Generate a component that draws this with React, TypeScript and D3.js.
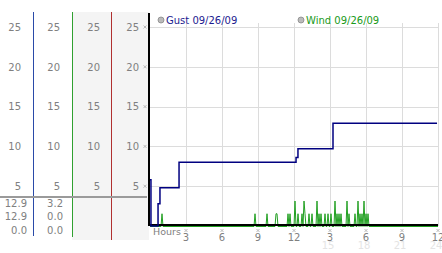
import React from "react";
import * as d3 from "d3";

// ---- data ----
const yTicks = [5, 10, 15, 20, 25];
const hourTicks = [3, 6, 9, 12, 15, 18, 21, 24];
const hourLabels = ["3", "6", "9", "12", "3", "6", "9", "12"];
const fadedHours = [15, 18, 21, 24];
const fadedLabels = ["15", "18", "21", "24"];

const gustSeriesName = "Gust 09/26/09";
const windSeriesName = "Wind 09/26/09";

// gust readings: hour, mph (step line)
const gustHours = [0, 0.08, 0.67, 0.83, 2.42, 12.17, 12.33, 15.25, 23.92];
const gustValues = [5.8, 0, 2.8, 4.8, 8.0, 8.6, 9.7, 12.9, 12.9];

// wind readings (minutes after midnight, mph), 5-minute samples; others are 0
const windMinutes = [60, 525, 585, 630, 635, 690, 700, 725, 740, 760, 770, 775, 795, 810, 835, 845, 855, 875, 890, 905, 925, 935, 945, 955, 985, 995, 1025, 1040, 1050, 1060, 1070, 1080, 1090];
const windValues = [1.6, 1.6, 1.6, 1.6, 1.6, 1.6, 1.6, 3.2, 1.6, 1.6, 3.2, 1.6, 1.6, 1.6, 3.2, 1.6, 1.6, 1.6, 1.6, 1.6, 3.2, 1.6, 1.6, 1.6, 3.2, 1.6, 1.6, 3.2, 1.6, 1.6, 3.2, 1.6, 1.6];

const gustSummary = ["12.9", "12.9", "0.0"];
const windSummary = ["3.2", "0.0", "0.0"];

const FONT = "DejaVu Sans, Verdana, sans-serif";

function Marker({ x, y }: { x: number; y: number }) {
  return (
    <path
      d={`M${x - 1.5},${y - 1.5}L${x + 1.5},${y + 1.5}M${x + 1.5},${y - 1.5}L${x - 1.5},${y + 1.5}`}
      stroke="#aaa"
      strokeWidth={0.8}
      fill="none"
    />
  );
}

export default function App() {
  const W = 442, H = 253;
  const x = d3.scaleLinear().domain([0, 24]).range([150, 438]);
  const y = d3.scaleLinear().domain([0, 25]).range([226, 27]);

  const gustPts: [number, number][] = gustHours.map((h, i) => [h, gustValues[i]]);
  const gustLine = d3
    .line<[number, number]>()
    .x((d) => x(d[0]))
    .y((d) => y(d[1]))
    .curve(d3.curveStepAfter)(gustPts);

  // wind polyline, with zero readings between the non-zero ones
  const windPts: [number, number][] = [[0, 0]];
  windMinutes.forEach((m, i) => {
    const prev = windPts[windPts.length - 1];
    if (prev[0] < m - 5) windPts.push([m - 5, 0]);
    windPts.push([m, windValues[i]]);
    const next = windMinutes[i + 1];
    if (next === undefined || next > m + 5) windPts.push([m + 5, 0]);
  });
  windPts.push([1440, 0]);
  const windLine = d3
    .line<[number, number]>()
    .x((d) => x(d[0] / 60))
    .y((d) => y(d[1]) + 0.5)(windPts);

  const labelRights = [21, 60, 100, 139];
  const colLines = [
    { x: 33, color: "#2a4aa8", y2: 236 },
    { x: 72, color: "#30a030", y2: 237 },
    { x: 111, color: "#b03030", y2: 240 },
  ];

  return (
    <svg width={W} height={H} style={{ position: "absolute", left: 0, top: 0, background: "#fff" }} fontFamily={FONT}>
      {/* left panel shading */}
      <rect x={72} y={12} width={77} height={228} fill="#f4f4f4" />
      {/* column lines */}
      {colLines.map((c) => (
        <line key={c.x} x1={c.x + 0.5} x2={c.x + 0.5} y1={12} y2={c.y2} stroke={c.color} strokeWidth={1} />
      ))}
      {/* left-panel y labels */}
      {labelRights.map((rx, ci) =>
        yTicks.map((t) => (
          <text key={`${ci}-${t}`} x={rx} y={y(t) + 3.7} textAnchor="end" fontSize={10} fill="#808080">
            {t}
          </text>
        ))
      )}
      {/* separator line */}
      <line x1={0} x2={147} y1={197} y2={197} stroke="#9a9a9a" strokeWidth={2} />
      {/* summaries */}
      {gustSummary.map((s, i) => (
        <text key={`g${i}`} x={27} y={206.5 + i * 13.7} textAnchor="end" fontSize={10} fill="#808080">
          {s}
        </text>
      ))}
      {windSummary.map((s, i) => (
        <text key={`w${i}`} x={63} y={206.5 + i * 13.7} textAnchor="end" fontSize={10} fill="#808080">
          {s}
        </text>
      ))}

      {/* grid */}
      {yTicks.map((t) => (
        <line key={`hy${t}`} x1={150} x2={438} y1={Math.round(y(t)) + 0.5} y2={Math.round(y(t)) + 0.5} stroke="#dcdcdc" />
      ))}
      {hourTicks.map((h) => (
        <line key={`vx${h}`} x1={Math.round(x(h)) + 0.5} x2={Math.round(x(h)) + 0.5} y1={23} y2={226} stroke="#dcdcdc" />
      ))}
      {/* y tick markers */}
      {yTicks.map((t) => (
        <Marker key={`my${t}`} x={145} y={y(t)} />
      ))}

      {/* series */}
      <path d={windLine || ""} fill="none" stroke="#22a022" strokeWidth={1} />
      <line x1={149} x2={438} y1={225} y2={225} stroke="#000" strokeWidth={2} />
      <path d={gustLine || ""} fill="none" stroke="#000080" strokeWidth={1.5} />
      {/* y axis */}
      <line x1={149} x2={149} y1={13} y2={226} stroke="#000" strokeWidth={2} />

      {/* x axis labels */}
      <text x={153} y={235} fontSize={9.5} fill="#808080">Hours</text>
      {fadedHours.map((h, i) => (
        <text key={`fl${h}`} x={x(h) - 2} y={248.5} textAnchor="middle" fontSize={10} fill="#e4e4e4">
          {fadedLabels[i]}
        </text>
      ))}
      {hourTicks.map((h, i) => (
        <g key={`xl${h}`}>
          <Marker x={x(h)} y={230.5} />
          <text x={x(h)} y={241} textAnchor="middle" fontSize={10} fill="#808080">
            {hourLabels[i]}
          </text>
        </g>
      ))}

      {/* legend */}
      <circle cx={161} cy={20} r={3} fill="#bbb" stroke="#888" strokeWidth={0.8} />
      <text x={166} y={23.5} fontSize={10} fill="#1c1c90">{gustSeriesName}</text>
      <circle cx={301} cy={20} r={3} fill="#bbb" stroke="#888" strokeWidth={0.8} />
      <text x={306} y={23.5} fontSize={10} fill="#1a9a1a">{windSeriesName}</text>
    </svg>
  );
}
